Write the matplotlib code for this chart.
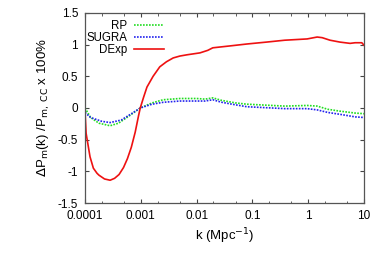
import matplotlib
matplotlib.use('Agg')
import matplotlib.pyplot as plt
import numpy as np
from matplotlib.ticker import LogLocator, NullFormatter

plt.rcParams['font.family'] = ['Liberation Sans', 'DejaVu Sans']

# log10(k) sample positions and curve values (percent)
logk_dexp = [-4.0, -3.98, -3.91, -3.85, -3.785, -3.75, -3.65, -3.55, -3.47, -3.39, -3.31,
             -3.24, -3.17, -3.10, -3.04, -3.01, -2.95, -2.89, -2.78, -2.66, -2.54, -2.42,
             -2.30, -2.17, -1.94, -1.80, -1.71, -1.40, -1.10, -0.75, -0.42, -0.02, 0.16,
             0.25, 0.39, 0.57, 0.75, 0.84, 0.96, 1.0]
dexp = [-0.05, -0.40, -0.77, -0.95, -1.03, -1.06, -1.12, -1.14, -1.11, -1.05, -0.94,
        -0.80, -0.62, -0.38, -0.12, 0.0, 0.17, 0.33, 0.50, 0.65, 0.73, 0.79,
        0.82, 0.84, 0.87, 0.91, 0.95, 0.98, 1.01, 1.04, 1.07, 1.09, 1.12,
        1.11, 1.07, 1.04, 1.02, 1.03, 1.03, 0.99]

logk_rp = [-4.0, -3.9, -3.75, -3.55, -3.4, -3.2, -3.01, -2.8, -2.6, -2.3, -2.0, -1.85,
           -1.71, -1.55, -1.3, -1.10, -0.42, -0.02, 0.16, 0.35, 0.57, 0.84, 1.0]
rp = [0.0, -0.15, -0.24, -0.28, -0.24, -0.12, 0.0, 0.08, 0.13, 0.15, 0.15, 0.14,
      0.16, 0.12, 0.08, 0.06, 0.03, 0.04, 0.03, -0.02, -0.05, -0.08, -0.09]

logk_sugra = [-4.0, -3.9, -3.7, -3.55, -3.35, -3.15, -3.01, -2.8, -2.6, -2.3, -2.0, -1.85,
              -1.71, -1.55, -1.3, -1.10, -0.42, -0.02, 0.16, 0.35, 0.57, 0.84, 1.0]
sugra = [-0.07, -0.15, -0.21, -0.23, -0.19, -0.08, 0.0, 0.06, 0.09, 0.11, 0.11, 0.11,
         0.13, 0.09, 0.05, 0.02, -0.01, -0.01, -0.03, -0.07, -0.10, -0.14, -0.15]

xticks = [1e-4, 1e-3, 1e-2, 1e-1, 1, 10]
xticklabels = ['0.0001', '0.001', '0.01', '0.1', '1', '10']
yticks = [-1.5, -1, -0.5, 0, 0.5, 1, 1.5]
yticklabels = ['-1.5', '-1', '-0.5', '0', '0.5', '1', '1.5']

fig = plt.figure(figsize=(3.82, 2.70), dpi=100)
ax = fig.add_axes([0.2225, 0.248, 0.7305, 0.704])

ax.plot(10 ** np.array(logk_rp), rp, color='#22dd22', lw=1.2, ls=(0, (1, 0.8)), label='RP')
ax.plot(10 ** np.array(logk_sugra), sugra, color='#2222ee', lw=1.2, ls=(0, (1, 0.8)), label='SUGRA')
ax.plot(10 ** np.array(logk_dexp), dexp, color='#ee1111', lw=1.2, label='DExp')

ax.set_xscale('log')
ax.set_xlim(1e-4, 10)
ax.set_ylim(-1.5, 1.5)
ax.set_xticks(xticks)
ax.set_xticklabels(xticklabels)
ax.xaxis.set_minor_locator(LogLocator(base=10, subs=(2, 5)))
ax.xaxis.set_minor_formatter(NullFormatter())
ax.set_yticks(yticks)
ax.set_yticklabels(yticklabels)
ax.tick_params(which='both', direction='in', top=True, right=True, labelsize=8.5, color='#444444', pad=5)
ax.tick_params(which='major', length=3)
ax.tick_params(which='minor', length=1.8)
for s in ax.spines.values():
    s.set_color('#555555')
    s.set_linewidth(0.9)

ax.set_xlabel('k (Mpc$^{-1}$)', fontsize=9.5, labelpad=3)
ax.set_ylabel(r'$\Delta$P$_{\rm m}$(k) /P$_{\rm m,\ CC}$ x 100%', fontsize=9.5, labelpad=4)

ax.legend(loc='upper left', bbox_to_anchor=(-0.01, 0.985), frameon=False, markerfirst=False,
          fontsize=8.3, handlelength=2.6, handletextpad=0.6, labelspacing=0.0, borderpad=0.35,
          borderaxespad=0.0)

fig.savefig('out.png', dpi=100)
